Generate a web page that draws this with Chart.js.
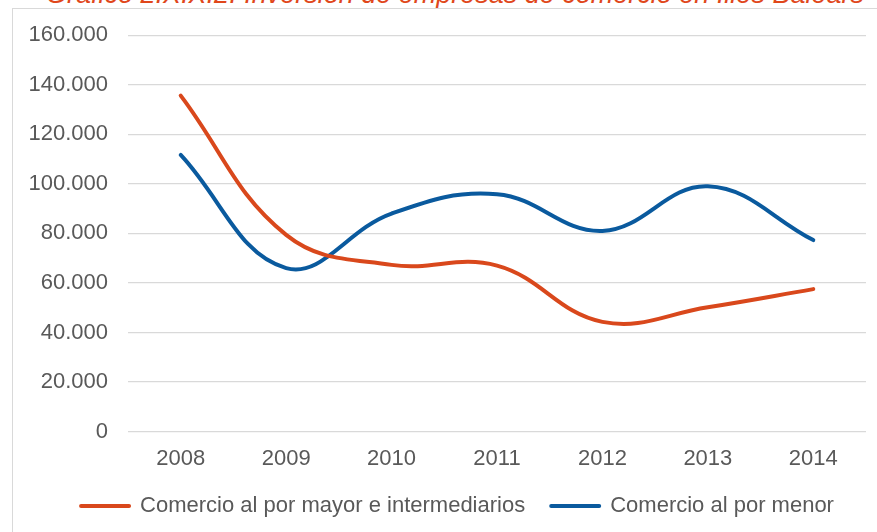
<!DOCTYPE html>
<html>
<head>
<meta charset="utf-8">
<script src="https://cdn.jsdelivr.net/npm/chart.js@4/dist/chart.umd.min.js"></script>
<style>
  html, body { margin: 0; padding: 0; background: #fff; overflow: hidden; }
  body { width: 877px; height: 532px; position: relative; }
  #title {
    position: absolute; left: 0; width: 910px; top: -19px;
    text-align: center; font: italic 27px "Liberation Sans", Arial, sans-serif;
    line-height: 27px; color: #E0471B; white-space: nowrap;
  }
  #box {
    position: absolute; left: 12px; top: 8px; width: 900px; height: 540px;
    border: 1px solid #d9d9d9; box-sizing: border-box;
  }
  #wrap { position: absolute; left: 13px; top: 2px; width: 889px; height: 540px; }
</style>
</head>
<body>
<div id="title">Gráfico 2.X.X.2. Inversión de empresas de comercio en Illes Balears</div>
<div id="box"></div>
<div id="wrap"><canvas id="myChart"></canvas></div>
<script>
const years = ['2008', '2009', '2010', '2011', '2012', '2013', '2014'];
const mayorista = [135600, 79400, 67300, 67000, 44300, 50200, 57500];
const minorista = [111700, 66000, 88000, 95800, 81000, 99000, 77300];
const seriesNames = ['Comercio al por mayor e intermediarios', 'Comercio al por menor'];
const seriesColors = ['#D9481C', '#0A5A9E'];

const font = { family: '"Liberation Sans", Arial, sans-serif', size: 22 };

// the legend sits a bit right of the plot centre in the original
const legendShift = {
  id: 'legendShift',
  afterLayout(chart) {
    chart.legend.left += 18;
    chart.legend.right += 18;
  }
};

const context = document.getElementById('myChart');
const myChart = new Chart(context, {
  type: 'line',
  data: {
    labels: years,
    datasets: [mayorista, minorista].map((values, i) => ({
      label: seriesNames[i],
      data: values,
      borderColor: seriesColors[i],
      backgroundColor: seriesColors[i],
      borderWidth: 4,
      borderCapStyle: 'round',
      borderJoinStyle: 'round',
      pointRadius: 0,
      tension: 0.4,
      fill: false
    }))
  },
  plugins: [legendShift],
  options: {
    responsive: true,
    maintainAspectRatio: false,
    animation: false,
    layout: { padding: { top: 19, right: 36, left: 0, bottom: 15 } },
    plugins: {
      tooltip: { enabled: false },
      legend: {
        position: 'bottom',
        labels: {
          color: '#595959',
          font: font,
          boxWidth: 48,
          boxHeight: 0,
          padding: 26
        }
      }
    },
    scales: {
      x: {
        offset: true,
        afterFit: (scale) => { scale.height = scale.height - 17; },
        grid: { display: false, drawTicks: false },
        border: { display: false },
        ticks: { color: '#595959', font: font, padding: 14, maxRotation: 0 }
      },
      y: {
        min: 0,
        max: 160000,
        afterFit: (scale) => { scale.width = 115; },
        grid: { color: '#d9d9d9', lineWidth: 1.3, drawTicks: false },
        border: { display: false },
        ticks: {
          stepSize: 20000,
          color: '#595959',
          font: font,
          padding: 20,
          callback: (v) => String(v).replace(/\B(?=(\d{3})+(?!\d))/g, '.')
        }
      }
    }
  }
});
</script>
</body>
</html>
